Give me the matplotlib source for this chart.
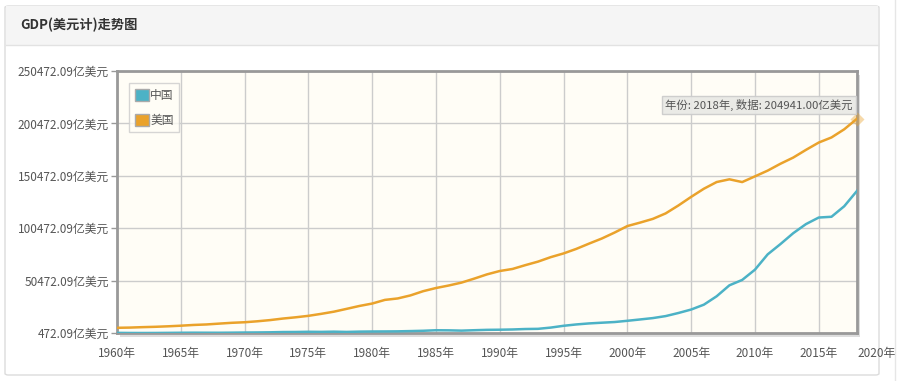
import numpy as np
import matplotlib.pyplot as plt
from matplotlib.patches import FancyBboxPatch, Rectangle, Patch
import matplotlib.transforms as mtransforms

plt.rcParams['font.family'] = ['Noto Sans CJK SC', 'DejaVu Sans']

# data, 亿美元
years = list(range(1960, 2019))
china = [597.2, 500.6, 472.09, 507.1, 597.1, 704.4, 767.2, 728.8, 708.5, 797.1,
         926.0, 998.0, 1136.9, 1385.4, 1441.8, 1634.3, 1539.4, 1749.4, 1495.4, 1782.8,
         1911.5, 1958.7, 2050.9, 2306.9, 2599.5, 3094.9, 3007.6, 2729.7, 3123.5, 3477.7,
         3608.6, 3833.7, 4269.2, 4447.3, 5643.2, 7345.5, 8637.5, 9616.0, 10290.4, 10939.9,
         12113.5, 13394.0, 14705.5, 16602.9, 19553.5, 22859.7, 27521.3, 35521.8, 45982.1, 51099.5,
         60871.6, 75515.0, 85322.3, 95704.1, 104385.3, 110646.6, 111379.5, 121434.9, 136081.5]
usa = [5433, 5633, 6051, 6386, 6858, 7437, 8150, 8617, 9425, 10199,
       10733, 11649, 12791, 14254, 15452, 16849, 18734, 20818, 23516, 26273,
       28573, 32070, 33438, 36340, 40376, 43390, 45796, 48552, 52364, 56416,
       59631, 61581, 65203, 68586, 72872, 76397, 80731, 85776, 90628, 96312,
       102510, 105818, 109364, 114582, 122137, 130366, 138146, 144519, 147128, 144489,
       149921, 155426, 161970, 167849, 175217, 182193, 187072, 194854, 204941]
yticks = [472.09 + 50000 * i for i in range(6)]
xticks = list(range(1960, 2016, 5))

c_cn = '#4cb2c6'
c_us = '#eaa22b'

fig = plt.figure(figsize=(8.97, 3.81), dpi=100)
W, H = 897, 381

# card + header
fig.patches.append(FancyBboxPatch((5 / W, 6 / H), 874 / W, 369 / H,
                                  boxstyle='round,pad=0,rounding_size=0.004',
                                  transform=fig.transFigure, fc='white', ec='#dcdcdc', lw=1, zorder=0))
fig.patches.append(Rectangle((6 / W, 1 - 45 / H), 872 / W, 39 / H, transform=fig.transFigure,
                             fc='#f5f5f5', ec='none', zorder=0.5))
fig.lines.append(plt.Line2D([6 / W, 878 / W], [1 - 45 / H, 1 - 45 / H], transform=fig.transFigure,
                            color='#e2e2e2', lw=1))
fig.lines.append(plt.Line2D([895 / W, 895 / W], [0, 1], transform=fig.transFigure, color='#e6e6e6', lw=1))
fig.text(20 / W, 1 - 25 / H, 'GDP(美元计)走势图', fontsize=9.5, fontweight='bold', color='#333333',
         va='center', ha='left')

x0, x1, y0, y1 = 117, 857, 71, 333
ax = fig.add_axes([x0 / W, 1 - y1 / H, (x1 - x0) / W, (y1 - y0) / H])
# shadow
fig.patches.append(Rectangle(((x0 + 3) / W, 1 - (y1 + 4) / H), (x1 - x0) / W, (y1 - y0) / H,
                             transform=fig.transFigure, fc='#dddddd', ec='none', zorder=0.8))
ax.set_facecolor('#fffdf6')
ax.set_zorder(2)

ax.plot(years, china, color=c_cn, lw=1.8, label='中国', zorder=3)
ax.plot(years, usa, color=c_us, lw=1.8, label='美国', zorder=3)
ax.plot(years[-1], usa[-1], marker='D', ms=7, color=c_us, alpha=0.4, mec='none', zorder=4, clip_on=False)

ax.set_xlim(1960, 2018)
ax.set_ylim(yticks[0], yticks[-1])
ax.set_xticks(xticks)
ax.set_xticklabels([f'{y}年' for y in xticks])
ax.set_yticks(yticks)
ax.set_yticklabels([f'{v:.2f}亿美元' for v in yticks])
ax.grid(True, color='#cccccc', lw=1)
ax.set_axisbelow(True)
ax.tick_params(axis='x', length=0, pad=10, labelsize=8.5, labelcolor='#555555')
ax.tick_params(axis='y', length=4, width=1, color='#999999', pad=2, labelsize=8.5, labelcolor='#555555')
for s in ax.spines.values():
    s.set_color('#999999')
    s.set_linewidth(2)

# 2020 label sits past the frame edge
lab = fig.text(896 / W, 0.5, '2020年', ha='right', va='center', fontsize=8.5, color='#555555')
fig.canvas.draw()
ref = ax.get_xticklabels()[0].get_window_extent()
lab.set_y((ref.y0 + ref.y1) / 2 / H)

handles = [Patch(fc=c_cn, ec='#aaaaaa', label='中国'), Patch(fc=c_us, ec='#aaaaaa', label='美国')]
leg = ax.legend(handles=handles, loc='upper left', bbox_to_anchor=(0.016, 0.955), fontsize=8.5,
                handlelength=1.2, handleheight=1.2, handletextpad=0.1, borderpad=0.5, labelspacing=1.0,
                frameon=True, fancybox=False, labelcolor='#555555', borderaxespad=0)
leg.get_frame().set_edgecolor('#cccccc')
leg.get_frame().set_facecolor('#fffdf6')

ax.annotate(f'年份: {years[-1]}年, 数据: {usa[-1]:.2f}亿美元', xy=(years[-1], usa[-1]),
            xytext=(-3, 10), textcoords='offset points', ha='right', va='center', fontsize=8.2,
            color='#555555', zorder=5,
            bbox=dict(boxstyle='square,pad=0.25', fc='#e9e9e6', ec='#cccccc', lw=1, alpha=0.95))

fig.savefig('out.png', dpi=100)
